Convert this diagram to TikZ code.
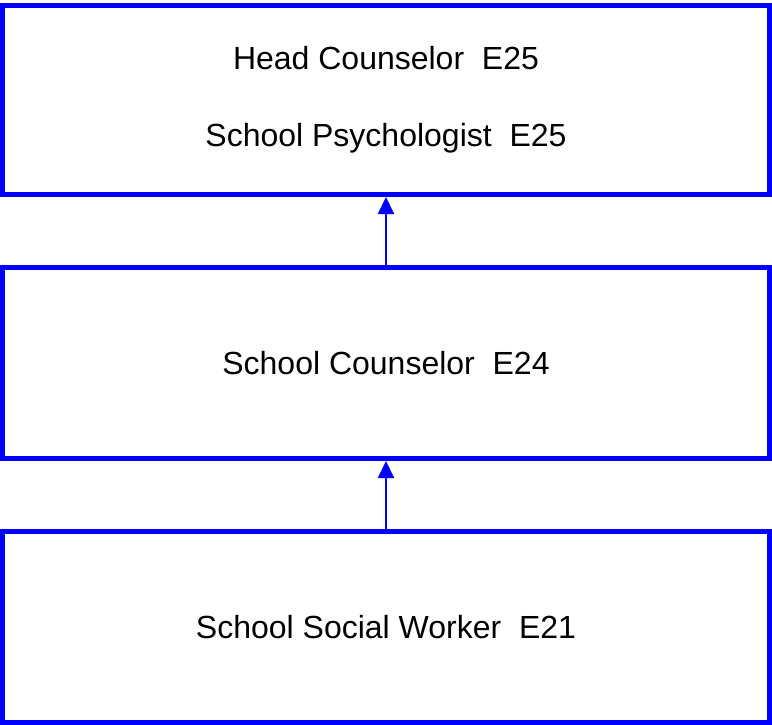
\documentclass[tikz,border=0pt]{standalone}
\usepackage{fontspec}
\setmainfont{Liberation Sans}
\usetikzlibrary{arrows.meta}
\begin{document}
\begin{tikzpicture}[x=1pt,y=-1pt,
  box/.style={draw=blue,line width=5pt,minimum width=767pt,inner sep=0pt,align=center,
    font=\fontsize{32}{77}\selectfont},
  link/.style={draw=blue,line width=2pt,-{Triangle[length=17pt,width=16pt]}}]
\useasboundingbox (0,0) rectangle (772,725);
\node[box,minimum height=189pt] (top) at (386,100) {Head Counselor\ \ E25\\School Psychologist\ \ E25};
\node[box,minimum height=191.5pt] (mid) at (386,362.75) {School Counselor\ \ E24};
\node[box,minimum height=191.5pt] (bot) at (386,626.75) {School Social Worker\ \ E21};
\draw[link] (mid.north) -- (top.south);
\draw[link] (bot.north) -- (mid.south);
\end{tikzpicture}
\end{document}
